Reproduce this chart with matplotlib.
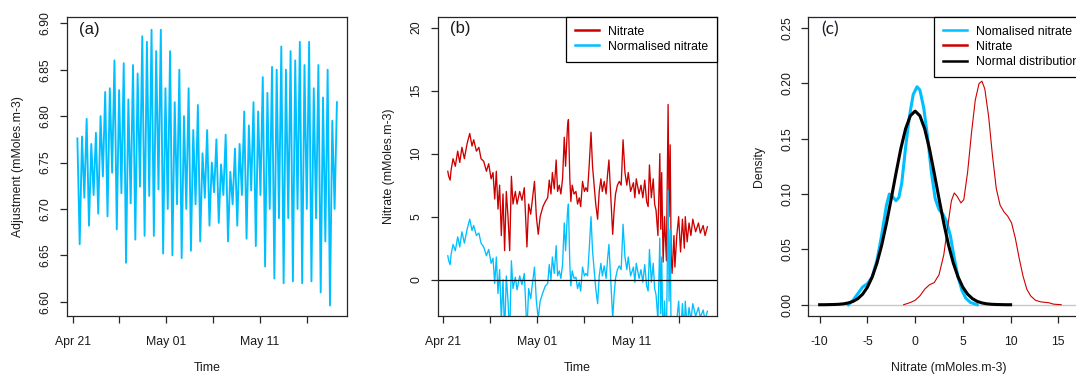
import numpy as np
import matplotlib
matplotlib.use("Agg")
import matplotlib.pyplot as plt

plt.rcParams['font.family'] = ['Liberation Sans', 'DejaVu Sans']

# ---------------- data ----------------
# (a) tidal adjustment: sequence = first value, then alternating low/high
adj_start_day = 0.5
adj_end_day = 28.25
adj_first = 6.776
adj_lows = [6.662, 6.712, 6.682, 6.715, 6.695, 6.735, 6.692, 6.739, 6.678, 6.717,
            6.642, 6.706, 6.667, 6.724, 6.671, 6.714, 6.671, 6.721, 6.652, 6.700,
            6.650, 6.705, 6.647, 6.700, 6.655, 6.705, 6.665, 6.712, 6.682, 6.718,
            6.685, 6.715, 6.665, 6.705, 6.682, 6.715, 6.668, 6.720, 6.660, 6.715,
            6.638, 6.700, 6.625, 6.690, 6.620, 6.690, 6.622, 6.700, 6.620, 6.700,
            6.622, 6.690, 6.610, 6.665, 6.596, 6.700]
adj_highs = [6.778, 6.797, 6.770, 6.782, 6.800, 6.826, 6.830, 6.860, 6.828, 6.857,
             6.818, 6.855, 6.846, 6.886, 6.880, 6.893, 6.870, 6.893, 6.830, 6.870,
             6.815, 6.850, 6.800, 6.830, 6.785, 6.812, 6.760, 6.785, 6.750, 6.775,
             6.748, 6.780, 6.740, 6.765, 6.770, 6.805, 6.790, 6.815, 6.805, 6.842,
             6.825, 6.853, 6.850, 6.875, 6.850, 6.870, 6.860, 6.880, 6.855, 6.880,
             6.830, 6.855, 6.820, 6.850, 6.795, 6.815]

# (b) nitrate and normalised nitrate (days since Apr 21)
nitrate_day = [0.50, 0.60, 0.75, 0.85, 1.06, 1.30, 1.55, 1.77, 2.00, 2.26,
               2.55, 2.83, 3.07, 3.25, 3.54, 3.80, 4.03, 4.31, 4.60, 4.84,
               5.10, 5.30, 5.48, 5.65, 5.83, 6.00, 6.18, 6.36, 6.53, 6.71,
               6.89, 7.07, 7.25, 7.42, 7.67, 7.85, 8.13, 8.37, 8.62, 8.90,
               9.08, 9.30, 9.50, 9.70, 9.90, 10.10, 10.30, 10.60, 10.85, 11.10,
               11.27, 11.45, 11.60, 11.80, 12.00, 12.15, 12.33, 12.50, 12.68, 12.86,
               13.00, 13.20, 13.30, 13.45, 13.56, 13.70, 13.90, 14.10, 14.27, 14.45,
               14.60, 14.80, 15.00, 15.15, 15.33, 15.50, 15.70, 15.86, 16.00, 16.20,
               16.40, 16.57, 16.75, 16.90, 17.10, 17.30, 17.45, 17.60, 17.80, 18.00,
               18.15, 18.30, 18.50, 18.70, 18.90, 19.10, 19.30, 19.50, 19.65, 19.90,
               20.20, 20.35, 20.50, 20.80, 21.00, 21.20, 21.40, 21.60, 21.76, 21.90,
               22.10, 22.30, 22.45, 22.60, 22.80, 23.00, 23.10, 23.20, 23.35, 23.50,
               23.70, 23.88, 23.98, 24.10, 24.20, 24.30, 24.50, 24.60, 24.80, 25.00,
               25.20, 25.40, 25.60, 25.70, 25.90, 26.10, 26.30, 26.50, 26.80, 27.10,
               27.30, 27.60, 27.80, 28.05]
nitrate = [8.6, 8.2, 7.9, 8.7, 9.6, 9.0, 10.2, 9.3, 10.5, 9.6,
           10.8, 11.6, 10.6, 11.1, 10.2, 10.5, 9.6, 9.4, 8.6, 9.2,
           8.0, 8.5, 6.4, 8.6, 5.6, 7.5, 3.5, 6.8, 2.3, 7.0,
           5.0, 2.3, 8.2, 6.0, 7.0, 6.0, 7.0, 6.3, 7.3, 2.6,
           6.0, 5.2, 6.5, 7.8, 5.0, 3.6, 5.0, 5.8, 6.2, 6.5,
           7.9, 6.8, 8.5, 7.2, 9.5, 7.0, 7.5, 6.8, 8.0, 11.3,
           9.0, 12.1, 12.7, 8.0, 6.2, 7.5, 6.8, 7.0, 6.0, 6.5,
           5.8, 7.8, 7.0, 7.3, 7.0, 9.0, 11.7, 9.0, 7.8, 6.0,
           4.8, 7.0, 8.0, 7.0, 7.8, 6.8, 8.3, 9.5, 6.5, 3.6,
           5.5, 6.8, 7.5, 7.8, 7.5, 11.1, 8.5, 7.5, 8.5, 7.0,
           7.7, 6.5, 8.0, 6.8, 7.5, 6.5, 7.9, 6.2, 5.8, 9.1,
           6.5, 8.0, 6.0, 5.5, 3.5, 10.0, 4.0, 8.5, 1.4, 5.0,
           1.5, 13.9, 5.0, 10.7, 2.0, 0.5, 3.5, 1.0, 3.5, 5.0,
           2.2, 4.8, 2.5, 5.0, 3.0, 4.5, 3.5, 4.8, 3.8, 4.5,
           3.7, 4.3, 3.5, 4.2]
normalised = [1.9, 1.5, 1.2, 2.0, 2.8, 2.3, 3.4, 2.6, 3.8, 2.9,
              4.0, 4.8, 3.9, 4.3, 3.5, 3.7, 2.9, 2.6, 1.9, 2.4,
              1.3, 1.7, -0.3, 1.8, -1.1, 0.8, -3.2, 0.0, -4.4, 0.3,
              -1.7, -4.4, 1.5, -0.7, 0.2, -0.8, 0.3, -0.4, 0.5, -4.1,
              -0.7, -1.5, -0.2, 1.0, -1.7, -3.1, -1.7, -1.0, -0.5, -0.3,
              1.2, 0.0, 1.8, 0.5, 2.7, 0.3, 0.7, 0.1, 1.2, 4.5,
              2.3, 5.3, 6.0, 1.2, -0.5, 0.7, 0.1, 0.2, -0.7, -0.2,
              -0.9, 1.0, 0.3, 0.5, 0.3, 2.3, 5.0, 2.3, 1.1, -0.7,
              -1.9, 0.3, 1.3, 0.3, 1.1, 0.1, 1.6, 2.8, -0.2, -3.1,
              -1.2, 0.1, 0.8, 1.1, 0.8, 4.4, 1.8, 0.8, 1.8, 0.3,
              1.0, -0.2, 1.3, 0.1, 0.8, -0.2, 1.2, -0.5, -0.9, 2.4,
              -0.2, 1.3, -0.7, -1.2, -3.2, 3.3, -2.7, 1.8, -5.3, -1.7,
              -5.2, 7.1, -1.7, 4.0, -4.7, -6.2, -3.2, -5.7, -3.2, -1.7,
              -4.5, -1.9, -4.2, -1.7, -3.7, -2.2, -3.2, -1.9, -2.9, -2.2,
              -3.0, -2.4, -3.2, -2.5]

# (c) densities
dens_norm_x = [-7.0, -6.5, -6.0, -5.5, -5.0, -4.5, -4.0, -3.5, -3.0, -2.7, -2.4, -2.0,
               -1.7, -1.4, -1.0, -0.6, -0.2, 0.2, 0.5, 0.9, 1.3, 1.7, 2.1, 2.5, 2.9,
               3.3, 3.7, 4.1, 4.5, 4.9, 5.3, 5.8, 6.5]
dens_norm_y = [0.0, 0.004, 0.010, 0.016, 0.019, 0.025, 0.040, 0.063, 0.090, 0.100, 0.098, 0.094,
               0.097, 0.110, 0.142, 0.170, 0.190, 0.197, 0.194, 0.178, 0.152, 0.120, 0.096, 0.086, 0.082,
               0.075, 0.062, 0.042, 0.025, 0.013, 0.006, 0.002, 0.0]
dens_nit_x = [-1.2, -0.5, 0.0, 0.5, 1.0, 1.5, 2.0, 2.5, 3.0, 3.4, 3.8, 4.1, 4.4, 4.8, 5.1,
              5.5, 5.9, 6.3, 6.7, 7.0, 7.3, 7.7, 8.1, 8.5, 8.9, 9.3, 9.7, 10.1, 10.5,
              10.9, 11.3, 11.7, 12.1, 12.6, 13.2, 14.0, 14.5, 15.3]
dens_nit_y = [0.0, 0.002, 0.004, 0.008, 0.014, 0.018, 0.020, 0.027, 0.045, 0.070, 0.094, 0.101,
              0.098, 0.092, 0.095, 0.120, 0.155, 0.185, 0.200, 0.202, 0.195, 0.170, 0.135,
              0.105, 0.090, 0.084, 0.080, 0.074, 0.060, 0.042, 0.026, 0.014, 0.008, 0.004,
              0.0025, 0.0018, 0.0005, 0.0]
normal_x = [-10.0, -9.5, -9.0, -8.5, -8.0, -7.5, -7.0, -6.5, -6.0, -5.5, -5.0, -4.5, -4.0,
            -3.5, -3.0, -2.5, -2.0, -1.5, -1.0, -0.5, 0.0, 0.5, 1.0, 1.5, 2.0, 2.5, 3.0,
            3.5, 4.0, 4.5, 5.0, 5.5, 6.0, 6.5, 7.0, 7.5, 8.0, 8.5, 9.0, 9.5, 10.0]
normal_y = [0.0, 0.0, 0.0001, 0.0002, 0.0004, 0.0008, 0.0016, 0.0030, 0.0055, 0.0095, 0.0158,
            0.0250, 0.0376, 0.0539, 0.0737, 0.0960, 0.1190, 0.1410, 0.1590, 0.1708, 0.1750,
            0.1708, 0.1590, 0.1410, 0.1190, 0.0960, 0.0737, 0.0539, 0.0376, 0.0250, 0.0158,
            0.0095, 0.0055, 0.0030, 0.0016, 0.0008, 0.0004, 0.0002, 0.0001, 0.0, 0.0]

date_ticks = [0, 5, 10, 15, 20, 25]
date_labels = ['Apr 21', '', 'May 01', '', 'May 11', '']
a_yticks = [6.60, 6.65, 6.70, 6.75, 6.80, 6.85, 6.90]
b_yticks = [0, 5, 10, 15, 20]
c_xticks = [-10, -5, 0, 5, 10, 15]
c_yticks = [0.00, 0.05, 0.10, 0.15, 0.20, 0.25]

# ---------------- figure ----------------
BLUE = '#00BFFF'
RED = '#CD0000'
FS = 8.8
W, H = 1076.0, 375.0

fig = plt.figure(figsize=(10.76, 3.75), dpi=100)

def add_ax(left_px, width_px):
    return fig.add_axes([left_px / W, (H - 316) / H, width_px / W, (316 - 16.5) / H])

ax_a = add_ax(67, 280.3)
ax_b = add_ax(437.7, 279.6)
ax_c = add_ax(808.3, 280)

def style(ax, xticks, xlabels, yticks, ylabels, xlabel, ylabel, width_px):
    ax.set_xticks(xticks)
    ax.set_xticklabels(xlabels)
    ax.set_yticks(yticks)
    ax.set_yticklabels(ylabels)
    for s in ax.spines.values():
        s.set_linewidth(0.9)
        s.set_color('#262626')
    ax.tick_params(direction='out', length=5, width=0.9, color='#262626',
                   labelsize=FS, labelcolor='#1a1a1a')
    ax.tick_params(axis='x', pad=9.5)
    ax.tick_params(axis='y', pad=6)
    for lbl in ax.get_yticklabels():
        lbl.set_rotation(90)
        lbl.set_va('center')
    ax.set_xlabel(xlabel, fontsize=FS, color='#1a1a1a', va='center')
    ax.set_ylabel(ylabel, fontsize=FS, color='#1a1a1a', va='center')
    ax.xaxis.set_label_coords(0.5, -52 / 299.5)
    ax.yaxis.set_label_coords(-49 / width_px, 0.5)

def legend(ax, handles):
    lg = ax.legend(handles=handles, loc='upper right', borderaxespad=0, fontsize=FS,
                   frameon=True, fancybox=False, framealpha=1, edgecolor='black',
                   handlelength=1.95, handletextpad=0.75, borderpad=0.75,
                   labelspacing=0.25)
    lg.get_frame().set_linewidth(0.9)
    for h in lg.get_lines():
        h.set_linewidth(1.8)
    return lg

# (a)
adj_values = [adj_first]
for lo, hi in zip(adj_lows, adj_highs):
    adj_values += [lo, hi]
adj_days = np.linspace(adj_start_day, adj_end_day, len(adj_values))
ax_a.plot(adj_days, adj_values, color=BLUE, lw=1.35)
ax_a.set_xlim(-0.61, 29.36)
ax_a.set_ylim(6.5847, 6.9073)
style(ax_a, date_ticks, date_labels, a_yticks, ['%.2f' % v for v in a_yticks],
      'Time', 'Adjustment (mMoles.m-3)', 280.3)
ax_a.text(12 / 280.3, 1 - 13 / 299.5, '(a)', transform=ax_a.transAxes,
          fontsize=12, ha='left', va='center', color='#1a1a1a')

# (b)
l1, = ax_b.plot(nitrate_day, nitrate, color=RED, lw=0.95, label='Nitrate')
l2, = ax_b.plot(nitrate_day, normalised, color=BLUE, lw=0.95, label='Normalised nitrate')
ax_b.axhline(0, color='black', lw=0.9)
ax_b.set_xlim(-0.57, 29.1)
ax_b.set_ylim(-2.88, 20.88)
style(ax_b, date_ticks, date_labels, b_yticks, [str(v) for v in b_yticks],
      'Time', 'Nitrate (mMoles.m-3)', 279.6)
ax_b.text(12.3 / 279.6, 1 - 12 / 299.5, '(b)', transform=ax_b.transAxes,
          fontsize=12, ha='left', va='center', color='#1a1a1a')
legend(ax_b, [l1, l2])

# (c)
ax_c.axhline(0, color='#c8c8c8', lw=1.0)
m1, = ax_c.plot(dens_norm_x, dens_norm_y, color=BLUE, lw=2.2, label='Nomalised nitrate')
m2, = ax_c.plot(dens_nit_x, dens_nit_y, color=RED, lw=0.8, label='Nitrate')
m3, = ax_c.plot(normal_x, normal_y, color='black', lw=2.2, label='Normal distribution')
ax_c.set_xlim(-11.19, 18.14)
ax_c.set_ylim(-0.0102, 0.2605)
style(ax_c, c_xticks, [str(v) for v in c_xticks], c_yticks, ['%.2f' % v for v in c_yticks],
      'Nitrate (mMoles.m-3)', 'Density', 280)
ax_c.text(13.4 / 280, 1 - 12.5 / 299.5, '(c)', transform=ax_c.transAxes,
          fontsize=12.5, ha='left', va='center', color='#1a1a2a', family='Lato')
legend(ax_c, [m1, m2, m3])

fig.savefig('out.png', dpi=100)
